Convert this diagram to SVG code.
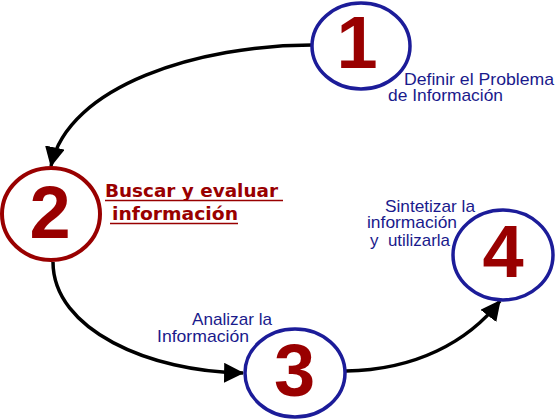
<svg xmlns="http://www.w3.org/2000/svg" width="555" height="419" viewBox="0 0 555 419">
<defs>
<marker id="arr" markerUnits="userSpaceOnUse" markerWidth="20" markerHeight="20" viewBox="0 0 18 18" refX="17" refY="9" orient="auto">
<path d="M0,0 L18,9 L0,18 Z" fill="#000"/>
</marker>
<style>
.blue{fill:#fff;stroke:#1c1c99;stroke-width:3.5}
.red{fill:#fff;stroke:#990000;stroke-width:4}
.num{font-family:"Liberation Sans",Arial,sans-serif;font-weight:bold;font-size:74px;fill:#990000;text-anchor:middle}
.lbl{font-family:"Liberation Sans",Arial,sans-serif;font-size:17px;fill:#1a1a8c}
.bold{font-family:"DejaVu Sans",Verdana,sans-serif;font-weight:bold;font-size:17px;fill:#990000}
.conn{fill:none;stroke:#000;stroke-width:3.5}
</style>
</defs>
<rect width="555" height="419" fill="#fff"/>
<g id="connectors">
<path class="conn" d="M312,45 C200,45 68,85 51,166" marker-end="url(#arr)"/>
<path class="conn" d="M53,262 C53,330 150,372 243,373" marker-end="url(#arr)"/>
<path class="conn" d="M346,371 C415,370 468,342 500,301" marker-end="url(#arr)"/>
</g>
<g id="node1">
<ellipse class="blue" cx="361" cy="46" rx="49" ry="43"/>
<text class="num" x="357" y="68">1</text>
<text class="lbl" x="404" y="85" textLength="150" lengthAdjust="spacingAndGlyphs">Definir el Problema</text>
<text class="lbl" x="388" y="101" textLength="115" lengthAdjust="spacingAndGlyphs">de Información</text>
</g>
<g id="node2">
<ellipse class="red" cx="51" cy="214" rx="49" ry="46"/>
<text class="num" x="50" y="238">2</text>
<text class="bold" x="105" y="197" textLength="173" lengthAdjust="spacingAndGlyphs">Buscar y evaluar</text>
<text class="bold" x="112" y="220" textLength="126" lengthAdjust="spacingAndGlyphs">información</text>
<line x1="105" y1="200.5" x2="283" y2="200.5" stroke="#990000" stroke-width="1.5"/>
<line x1="110" y1="223.5" x2="238" y2="223.5" stroke="#990000" stroke-width="1.5"/>
</g>
<g id="node3">
<ellipse class="blue" cx="295" cy="373" rx="50" ry="44"/>
<text class="num" x="294.5" y="396">3</text>
<text class="lbl" x="192" y="325" textLength="80" lengthAdjust="spacingAndGlyphs">Analizar la</text>
<text class="lbl" x="157" y="342" textLength="92" lengthAdjust="spacingAndGlyphs">Información</text>
</g>
<g id="node4">
<ellipse class="blue" cx="503" cy="255" rx="50" ry="45"/>
<text class="num" x="503" y="277">4</text>
<text class="lbl" x="385" y="212" textLength="90" lengthAdjust="spacingAndGlyphs">Sintetizar la</text>
<text class="lbl" x="367" y="228" textLength="90" lengthAdjust="spacingAndGlyphs">información</text>
<text class="lbl" x="370" y="246" textLength="80" lengthAdjust="spacingAndGlyphs" xml:space="preserve">y  utilizarla</text>
</g>
</svg>
